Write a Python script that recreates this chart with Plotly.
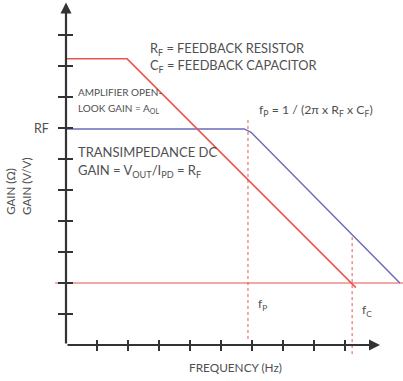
import plotly.graph_objects as go

# ---- data (schematic units: x = frequency tick index, y = gain tick index) ----
aol_freq = [0.0, 1.97, 9.35]
aol_gain = [9.23, 9.23, 1.85]

tia_freq = [0.0, 5.75, 5.97, 10.77]
tia_gain = [6.97, 6.97, 6.86, 2.0]

unity_freq = [-0.35, 10.87]
unity_gain = [2.0, 2.0]

fp_freq = [5.87, 5.87]
fp_gain = [7.26, 0.1]

fc_freq = [9.23, 9.23]
fc_gain = [3.48, -0.39]

x_ticks = [1, 2, 3, 4, 5, 6, 7, 8, 9]
y_ticks = [1, 2, 3, 4, 5, 6, 7, 8, 9, 10]
rf_level = 7

W, H = 403, 381
X0PX, Y0PX, UNIT = 66, 345, 31
x_range = [-X0PX / UNIT, (W - X0PX) / UNIT]
y_range = [-(H - Y0PX) / UNIT, Y0PX / UNIT]

RED = "#e8554d"
LRED = "#f08a84"
BLUE = "#6b6bb8"
AX = "#333333"
TXT = "#505050"
FONT = "Lato"

fig = go.Figure()
fig.add_trace(go.Scatter(x=unity_freq, y=unity_gain, mode="lines",
                         line=dict(color=LRED, width=1.5), hoverinfo="skip"))
fig.add_trace(go.Scatter(x=fp_freq, y=fp_gain, mode="lines",
                         line=dict(color=RED, width=1, dash="dot"), hoverinfo="skip"))
fig.add_trace(go.Scatter(x=fc_freq, y=fc_gain, mode="lines",
                         line=dict(color=RED, width=1, dash="dot"), hoverinfo="skip"))
fig.add_trace(go.Scatter(x=tia_freq, y=tia_gain, mode="lines",
                         line=dict(color=BLUE, width=1.5), hoverinfo="skip"))
fig.add_trace(go.Scatter(x=aol_freq, y=aol_gain, mode="lines",
                         line=dict(color=RED, width=1.5), hoverinfo="skip"))

# axis lines with arrows
fig.add_annotation(x=10.13, y=0, ax=0, ay=0, xref="x", yref="y", axref="x", ayref="y",
                   text="", showarrow=True, arrowhead=2, arrowsize=1, arrowwidth=2.2,
                   arrowcolor=AX, standoff=0, startstandoff=0)
fig.add_annotation(x=0, y=11.05, ax=0, ay=0, xref="x", yref="y", axref="x", ayref="y",
                   text="", showarrow=True, arrowhead=2, arrowsize=1, arrowwidth=2.2,
                   arrowcolor=AX, standoff=0, startstandoff=0)


def label(x, y, text, size, xanchor="left", yanchor="middle", angle=0):
    fig.add_annotation(x=x, y=y, xref="x", yref="y", text=text, showarrow=False,
                       xanchor=xanchor, yanchor=yanchor, textangle=angle,
                       font=dict(family=FONT, size=size, color=TXT))


label(2.65, 9.55, "R<sub>F</sub> = FEEDBACK RESISTOR", 12.8)
label(2.65, 9.0, "C<sub>F</sub> = FEEDBACK CAPACITOR", 12.8)
label(0.32, 8.16, "AMPLIFIER OPEN-", 10)
label(0.32, 7.64, "LOOK GAIN = A<sub>OL</sub>", 10)
label(-0.48, rf_level, "RF", 12.5, xanchor="right")
label(0.32, 6.24, "TRANSIMPEDANCE DC", 13)
label(0.32, 5.6, "GAIN = V<sub>OUT</sub>/I<sub>PD</sub> = R<sub>F</sub>", 13)
label(6.16, 7.58, "f<sub>P</sub> = 1 / (2π x R<sub>F</sub> x C<sub>F</sub>)", 12.3)
label(6.13, 1.32, "f<sub>P</sub>", 12)
label(9.48, 1.1, "f<sub>C</sub>", 12)
label(5.48, -0.74, "FREQUENCY (Hz)", 11.8, xanchor="center")
label(-1.78, 4.97, "GAIN (Ω)", 11.5, xanchor="center", angle=-90)
label(-1.26, 5.13, "GAIN (V/V)", 11.5, xanchor="center", angle=-90)

xpos = X0PX / W
ypos = (H - Y0PX) / H
common = dict(showgrid=False, zeroline=False, showline=False, showticklabels=False,
              ticks="outside", tickcolor=AX, tickwidth=1.5, automargin=False)

fig.update_layout(
    width=W, height=H, margin=dict(l=0, r=0, t=0, b=0, pad=0, autoexpand=False),
    paper_bgcolor="white", plot_bgcolor="white", showlegend=False,
    xaxis=dict(range=x_range, domain=[0, 1], anchor="free", position=ypos,
               tickvals=x_ticks, ticklen=5, **common),
    yaxis=dict(range=y_range, domain=[0, 1], anchor="free", position=xpos,
               tickvals=y_ticks, ticklen=8, **common),
    xaxis2=dict(range=x_range, domain=[0, 1], anchor="free", position=ypos,
                overlaying="x", tickvals=x_ticks, ticklen=5,
                **{**common, "ticks": "inside"}),
    yaxis2=dict(range=y_range, domain=[0, 1], anchor="free", position=xpos,
                overlaying="y", tickvals=y_ticks, ticklen=6,
                **{**common, "ticks": "inside"}),
)
# dummy trace to activate overlay axes
fig.add_trace(go.Scatter(x=[None], y=[None], xaxis="x2", yaxis="y2", hoverinfo="skip"))

fig.write_html("out.html", config={"displayModeBar": False},
               post_script="document.body.style.margin='0';document.body.style.padding='0';")
